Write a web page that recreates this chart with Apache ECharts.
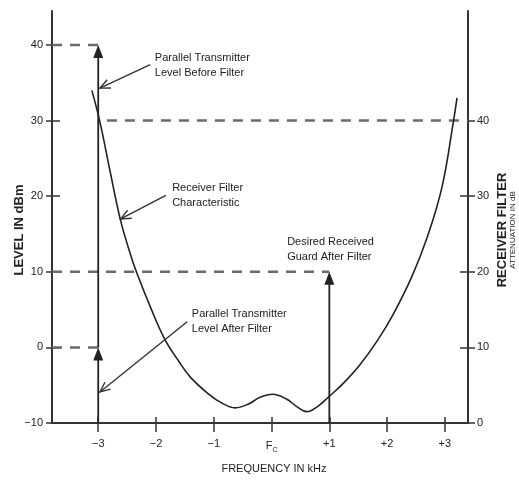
<!DOCTYPE html>
<html>
<head>
<meta charset="utf-8">
<script src="https://cdn.jsdelivr.net/npm/echarts@6/dist/echarts.min.js"></script>
<style>
  html, body { margin: 0; padding: 0; background: #fff; }
  #chart { width: 519px; height: 480px; }
</style>
</head>
<body>
<div id="chart"></div>
<script>
// Receiver filter characteristic: frequency offset (kHz) vs level (dBm)
const curveFreq  = [-3.11, -2.97, -2.8, -2.62, -2.45, -2.33, -2.1, -1.85, -1.6, -1.41, -1.1, -0.85, -0.63, -0.4, -0.2, 0.02, 0.25, 0.45, 0.61, 0.8, 0.98, 1.25, 1.53, 1.84, 2.1, 2.43, 2.7, 2.95, 3.14, 3.21];
const curveLevel = [34, 29.8, 23.5, 17, 12.5, 9.8, 5.4, 1.1, -1.9, -3.9, -6.1, -7.4, -8.0, -7.5, -6.6, -6.2, -6.8, -7.9, -8.5, -7.8, -6.6, -4.7, -2.3, 1.0, 4.3, 9.4, 14.7, 21.2, 29.5, 33];

// Axis ticks
const freqTicks  = [-3, -2, -1, 0, 1, 2, 3];
const freqLabels = ['\u22123', '\u22122', '\u22121', '{f|F}{s|C}', '+1', '+2', '+3'];
const levelTicks = [-10, 0, 10, 20, 30, 40];
const attenTicks = [0, 10, 20, 30, 40];

// Dashed reference levels (dBm) and their horizontal extents (kHz)
const dashLevel = [40, 30, 10, 0];
const dashFrom  = [-3.8, -2.85, -3.8, -3.8];
const dashTo    = [-3, 3.4, 1, -3];

// Vertical level arrows: frequency, start level, arrow-tip level
const arrowFreq = [-3, -3, 1];
const arrowFrom = [-10, 0, -10];
const arrowTo   = [0, 40, 10];

// Annotations: text, text anchor, leader start, leader tip (data coords)
const noteText = [
  'Parallel Transmitter\nLevel Before Filter',
  'Receiver Filter\nCharacteristic',
  'Parallel Transmitter\nLevel After Filter',
  'Desired Received\nGuard After Filter'
];
const noteAt   = [[-2.02, 39.3], [-1.72, 22.1], [-1.38, 5.4], [0.27, 14.9]];
const noteFrom = [[-2.10, 37.4], [-1.83, 20.1], [-1.46, 3.4], null];
const noteTip  = [[-2.97, 34.3], [-2.61, 17.0], [-2.97, -5.9], null];

const INK = '#222';
const AXIS = '#333';
const FONT = '"Liberation Sans", Arial, sans-serif';

const chart = echarts.init(document.getElementById('chart'), null, { renderer: 'canvas' });

const dashSeries = dashLevel.map((lv, i) => ({
  type: 'line',
  data: [[dashFrom[i], lv], [dashTo[i], lv]],
  showSymbol: false,
  silent: true,
  lineStyle: { color: '#6a6a6a', width: 2.5, type: [10, 8] },
  z: 1
}));

const option = {
  animation: false,
  backgroundColor: '#fff',
  textStyle: { fontFamily: FONT },
  grid: { left: 52, right: 51, top: 11, bottom: 57, outerBoundsMode: 'none', containLabel: false },
  xAxis: [{
    type: 'value', min: -3.8, max: 3.4, position: 'bottom',
    name: 'FREQUENCY IN kHz',
    nameLocation: 'middle', nameGap: 40,
    nameTextStyle: { color: INK, fontSize: 11, fontFamily: FONT, padding: [0, 0, 0, 28] },
    axisLine: { onZero: false, lineStyle: { color: AXIS, width: 2 } },
    axisTick: { customValues: freqTicks, length: 9, lineStyle: { color: AXIS, width: 1.5 } },
    axisLabel: {
      customValues: freqTicks, margin: 15, color: INK, fontSize: 11, fontFamily: FONT,
      formatter: v => freqLabels[freqTicks.indexOf(Math.round(v))],
      rich: {
        f: { fontSize: 11, color: INK, fontFamily: FONT },
        s: { fontSize: 7, color: INK, fontFamily: FONT, padding: [9, 0, 0, 0] }
      }
    },
    splitLine: { show: false }
  }, {
    type: 'value', min: -3.8, max: 3.4, position: 'bottom',
    axisLine: { show: false, onZero: false },
    axisTick: { customValues: freqTicks, inside: true, length: 6, lineStyle: { color: AXIS, width: 1.5 } },
    axisLabel: { show: false },
    splitLine: { show: false }
  }],
  yAxis: [{
    type: 'value', min: -10, max: 44.5, position: 'left',
    name: 'LEVEL IN dBm',
    nameLocation: 'middle', nameGap: 26, nameMoveOverlap: false,
    nameTextStyle: { color: INK, fontSize: 13, fontWeight: 'bold', fontFamily: FONT, padding: [0, 26, 0, 0] },
    axisLine: { show: true, onZero: false, lineStyle: { color: AXIS, width: 2 } },
    axisTick: { show: true, customValues: levelTicks, length: 6, lineStyle: { color: AXIS, width: 1.5 } },
    axisLabel: {
      customValues: levelTicks, margin: 9, color: INK, fontSize: 11, fontFamily: FONT,
      formatter: v => (v < 0 ? '\u2212' + Math.abs(v) : String(v))
    },
    splitLine: { show: false }
  }, {
    type: 'value', min: 0, max: 54.5, position: 'right',
    name: '{a|RECEIVER FILTER}\n{b|ATTENUATION IN dB}',
    nameLocation: 'middle', nameGap: 28, nameMoveOverlap: false,
    nameTextStyle: {
      color: INK, fontFamily: FONT, padding: [0, 26, 0, 0],
      rich: {
        a: { fontSize: 13, fontWeight: 'bold', color: INK, fontFamily: FONT, lineHeight: 12 },
        b: { fontSize: 8, color: INK, fontFamily: FONT, lineHeight: 10 }
      }
    },
    axisLine: { show: true, onZero: false, lineStyle: { color: AXIS, width: 2 } },
    axisTick: { show: true, customValues: attenTicks, length: 7, lineStyle: { color: AXIS, width: 1.5 } },
    axisLabel: { customValues: attenTicks, margin: 9, color: INK, fontSize: 11, fontFamily: FONT },
    splitLine: { show: false }
  }, {
    type: 'value', min: -10, max: 44.5, position: 'left',
    axisLine: { show: false, onZero: false },
    axisTick: { show: true, inside: true, customValues: levelTicks.filter(v => v !== 40 && v !== -10), length: 8, lineStyle: { color: AXIS, width: 1.5 } },
    axisLabel: { show: false },
    splitLine: { show: false }
  }, {
    type: 'value', min: 0, max: 54.5, position: 'right',
    axisLine: { show: false, onZero: false },
    axisTick: { show: true, inside: true, customValues: attenTicks.filter(v => v !== 0 && v !== 40), length: 8, lineStyle: { color: AXIS, width: 1.5 } },
    axisLabel: { show: false },
    splitLine: { show: false }
  }],
  series: [
    ...dashSeries,
    {
      // filter characteristic curve
      type: 'line',
      data: curveFreq.map((f, i) => [f, curveLevel[i]]),
      smooth: 0.4,
      showSymbol: false,
      lineStyle: { color: INK, width: 1.6 },
      z: 3
    },
    {
      // vertical level arrows with filled heads
      type: 'custom',
      data: arrowFreq.map((f, i) => [f, arrowFrom[i], arrowTo[i]]),
      renderItem: (params, api) => {
        const p0 = api.coord([api.value(0), api.value(1)]);
        const p1 = api.coord([api.value(0), api.value(2)]);
        const headL = 13, headW = 5;
        return {
          type: 'group',
          children: [
            { type: 'line', shape: { x1: p0[0], y1: p0[1], x2: p1[0], y2: p1[1] + headL - 2 },
              style: { stroke: INK, lineWidth: 1.8 } },
            { type: 'polygon', shape: { points: [[p1[0], p1[1]], [p1[0] - headW, p1[1] + headL], [p1[0] + headW, p1[1] + headL]] },
              style: { fill: INK } }
          ]
        };
      },
      z: 4
    },
    {
      // callout texts with open-headed leader arrows
      type: 'custom',
      data: noteText.map((t, i) => [i]),
      renderItem: (params, api) => {
        const i = api.value(0);
        const at = api.coord(noteAt[i]);
        const children = [{
          type: 'text',
          x: at[0], y: at[1],
          style: {
            text: noteText[i], fill: INK, fontSize: 11, lineHeight: 15,
            fontFamily: FONT, align: 'left', verticalAlign: 'top'
          }
        }];
        if (noteFrom[i]) {
          const a = api.coord(noteFrom[i]);
          const b = api.coord(noteTip[i]);
          const ang = Math.atan2(b[1] - a[1], b[0] - a[0]);
          const len = 11, spread = 0.42;
          const h1 = [b[0] - len * Math.cos(ang - spread), b[1] - len * Math.sin(ang - spread)];
          const h2 = [b[0] - len * Math.cos(ang + spread), b[1] - len * Math.sin(ang + spread)];
          children.push(
            { type: 'line', shape: { x1: a[0], y1: a[1], x2: b[0], y2: b[1] }, style: { stroke: '#333', lineWidth: 1.4 } },
            { type: 'polyline', shape: { points: [h1, b, h2] }, style: { stroke: '#333', lineWidth: 1.4, fill: null } }
          );
        }
        return { type: 'group', children };
      },
      z: 5
    }
  ]
};

chart.setOption(option);
</script>
</body>
</html>
